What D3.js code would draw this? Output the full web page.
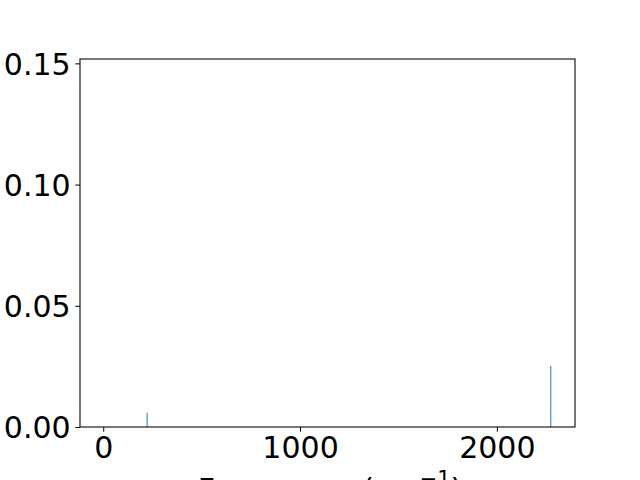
<!DOCTYPE html>
<html>
<head>
<meta charset="utf-8">
<script src="https://cdn.jsdelivr.net/npm/d3@7"></script>
<style>
  body { margin: 0; background: #fff; }
  text { font-family: "DejaVu Sans", sans-serif; }
</style>
</head>
<body>
<div id="chart"></div>
<script>
// stick spectrum: frequency (cm^-1) and intensity
var freqs = [223, 2274];
var intens = [0.0059, 0.0252];
var xTicks = [0, 1000, 2000];
var yTicks = [0, 0.05, 0.10, 0.15];

var W = 640, H = 480;
var m = {left: 80, right: 65, top: 59, bottom: 53};
var fs = 30;

var svg = d3.select("#chart").append("svg")
  .attr("width", W).attr("height", H);

var x = d3.scaleLinear().domain([-118, 2397]).range([m.left, W - m.right]);
var y = d3.scaleLinear().domain([0, 0.1518]).range([H - m.bottom, m.top]);

var g = svg.append("g");

// sticks
g.selectAll("line.stick")
  .data(freqs).enter()
  .append("line")
  .attr("class", "stick")
  .attr("x1", function(d){ return x(d); })
  .attr("x2", function(d){ return x(d); })
  .attr("y1", y(0))
  .attr("y2", function(d, i){ return y(intens[i]); })
  .style("stroke", "#1f77b4")
  .style("stroke-width", 1);

var xAxis = svg.append("g")
  .attr("transform", "translate(0," + (H - m.bottom) + ")")
  .call(d3.axisBottom(x).tickValues(xTicks).tickSize(4.7).tickPadding(4.7).tickFormat(d3.format("d")));
var yAxis = svg.append("g")
  .attr("transform", "translate(" + m.left + ",0)")
  .call(d3.axisLeft(y).tickValues(yTicks).tickSize(4.7).tickPadding(4.7).tickFormat(d3.format(".2f")));

[xAxis, yAxis].forEach(function(a){
  a.attr("font-size", fs).attr("font-family", "DejaVu Sans");
  a.select(".domain").remove();
  a.selectAll("text").attr("fill", "#000");
  a.selectAll("line").style("stroke", "#000").style("stroke-width", 1);
});
yAxis.selectAll("text").attr("dy", "0.36em");

// frame
svg.append("rect")
  .attr("x", m.left).attr("y", m.top)
  .attr("width", W - m.left - m.right).attr("height", H - m.top - m.bottom)
  .style("fill", "none").style("stroke", "#000").style("stroke-width", 1.07);

// x label (partly cut off at bottom, as in the original)
var lab = svg.append("text")
  .attr("x", 330).attr("y", 500)
  .attr("text-anchor", "middle")
  .style("font-size", fs + "px");
lab.append("tspan").text("Frequency (cm");
lab.append("tspan").attr("dy", -14.5).style("font-size", "21px").text("\u22121");
lab.append("tspan").attr("dy", 14.5).text(")");
</script>
</body>
</html>
